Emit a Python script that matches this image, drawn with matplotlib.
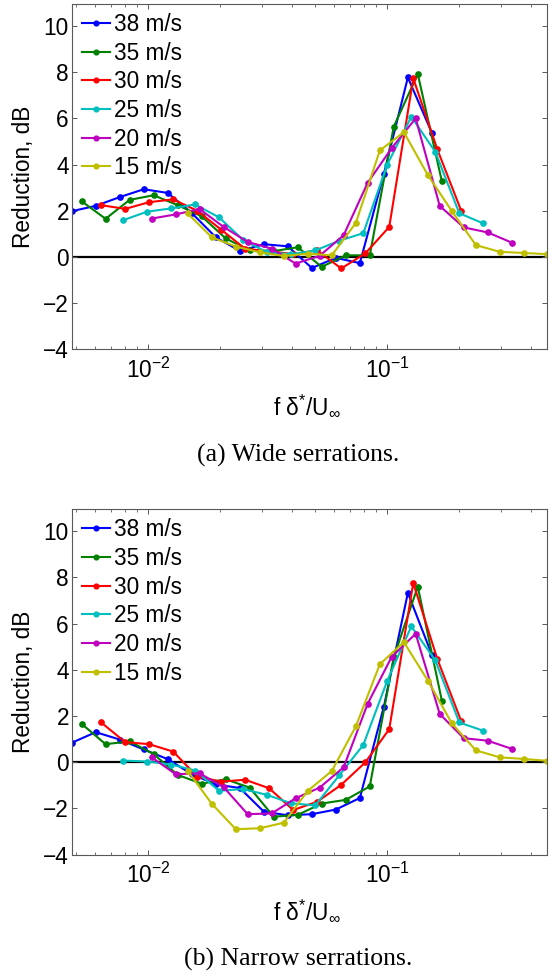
import numpy as np
import matplotlib
matplotlib.use('Agg')
import matplotlib.pyplot as plt

plt.rcParams['font.family'] = ['Liberation Sans', 'DejaVu Sans']
plt.rcParams['mathtext.fontset'] = 'custom'
plt.rcParams['mathtext.rm'] = 'Liberation Sans'
plt.rcParams['mathtext.it'] = 'Liberation Sans:italic'

# legend labels and line colours (MATLAB style)
speeds = ['38 m/s', '35 m/s', '30 m/s', '25 m/s', '20 m/s', '15 m/s']
colors = ['#0000ff', '#008000', '#ff0000', '#00bfbf', '#bf00bf', '#bfbf00']

# non-dimensional frequency f*delta/U for each speed (1/3 octave bands)
x_38 = [0.0048, 0.00605, 0.00762, 0.0096, 0.0121, 0.01524, 0.0192, 0.0242,
        0.03048, 0.0384, 0.0484, 0.06096, 0.0768, 0.0968, 0.1219, 0.1536]
x_35 = [0.00528, 0.00665, 0.00838, 0.01056, 0.0133, 0.01676, 0.02112, 0.0266,
        0.03353, 0.04224, 0.0532, 0.06706, 0.08448, 0.1064, 0.1341, 0.169]
x_30 = [0.00637, 0.00803, 0.01011, 0.01274, 0.01605, 0.02022, 0.02548, 0.0321,
        0.04045, 0.05096, 0.0642, 0.0809, 0.1019, 0.1284, 0.1618, 0.2038]
x_25 = [0.00787, 0.00992, 0.0125, 0.01574, 0.01983, 0.025, 0.0315, 0.0397,
        0.05, 0.063, 0.0794, 0.1, 0.126, 0.1587, 0.2, 0.252]
x_20 = [0.01035, 0.01304, 0.01643, 0.0207, 0.02608, 0.03286, 0.0414, 0.05216,
        0.06571, 0.0828, 0.1043, 0.1314, 0.1656, 0.2086, 0.2628, 0.3312]
x_15 = [0.01466, 0.01847, 0.02327, 0.02932, 0.03694, 0.04654, 0.05864, 0.07388,
        0.09308, 0.1173, 0.1478, 0.1862, 0.2346, 0.2955, 0.3723, 0.4664]

# (a) wide serrations, reduction in dB
wide_38 = [1.98, 2.21, 2.59, 2.93, 2.77, 1.9, 0.85, 0.26, 0.55, 0.46, -0.48, -0.04, -0.27, 3.6, 7.77, 5.37]
wide_35 = [2.41, 1.65, 2.47, 2.67, 2.24, 1.76, 0.8, 0.28, 0.25, 0.42, -0.43, 0.07, 0.07, 5.64, 7.92, 3.28]
wide_30 = [2.24, 2.08, 2.37, 2.49, 2.0, 1.18, 0.35, 0.25, 0.12, 0.28, -0.5, 0.15, 1.3, 7.73, 4.66, 1.99]
wide_25 = [1.59, 1.96, 2.1, 2.27, 1.71, 0.73, 0.2, 0.12, 0.28, 0.7, 1.03, 4.0, 6.07, 4.55, 1.89, 1.45]
wide_20 = [1.66, 1.84, 2.07, 1.3, 0.65, 0.36, -0.29, 0.05, 0.94, 3.21, 4.71, 6.0, 2.21, 1.28, 1.06, 0.62]
wide_15 = [1.88, 0.85, 0.45, 0.2, 0.04, 0.14, 0.07, 1.47, 4.61, 5.4, 3.54, 1.98, 0.51, 0.22, 0.17, 0.12]

# (b) narrow serrations
narrow_38 = [0.84, 1.3, 0.98, 0.55, 0.13, -0.52, -0.96, -1.12, -2.14, -2.3, -2.25, -2.05, -1.55, 2.41, 7.33, 4.65]
narrow_35 = [1.66, 0.78, 0.9, 0.35, -0.55, -0.93, -0.74, -1.1, -2.36, -2.28, -1.79, -1.63, -1.05, 4.55, 7.6, 2.67]
narrow_30 = [1.72, 0.87, 0.78, 0.46, -0.62, -0.84, -0.76, -1.13, -2.07, -1.71, -0.98, -0.01, 1.43, 7.76, 4.47, 1.77]
narrow_25 = [0.07, 0.03, -0.1, -0.36, -1.24, -1.16, -1.42, -1.78, -1.87, -0.57, 0.75, 3.53, 5.88, 4.41, 1.72, 1.36]
narrow_20 = [0.22, -0.52, -0.48, -1.08, -2.25, -2.22, -1.56, -1.1, -0.22, 2.53, 4.56, 5.56, 2.09, 1.04, 0.93, 0.58]
narrow_15 = [-0.38, -1.8, -2.9, -2.86, -2.62, -1.24, -0.38, 1.55, 4.24, 5.2, 3.53, 1.68, 0.51, 0.21, 0.14, 0.06]

x_all = [x_38, x_35, x_30, x_25, x_20, x_15]
wide = [wide_38, wide_35, wide_30, wide_25, wide_20, wide_15]
narrow = [narrow_38, narrow_35, narrow_30, narrow_25, narrow_20, narrow_15]

yticks = [-4, -2, 0, 2, 4, 6, 8, 10]
captions = ['(a) Wide serrations.', '(b) Narrow serrations.']
fs = 16.3


def plot_panel(ax, ys):
    ax.axhline(0, color='k', lw=1.6, zorder=1)
    for xs, y, c, lab in zip(x_all, ys, colors, speeds):
        ax.plot(xs, y, '-o', color=c, lw=1.5, ms=3.8, label=lab, zorder=2)
    ax.set_xscale('log')
    ax.set_xlim(0.0048, 0.4664)
    ax.set_ylim(-4, 10.95)
    ax.set_yticks(yticks)
    ax.tick_params(which='both', direction='in', top=True, right=True,
                   labelsize=fs, color='0.35')
    ax.tick_params(which='major', length=3.5, width=0.7)
    ax.tick_params(which='minor', length=2.0, width=0.6)
    ax.tick_params(axis='x', pad=6)
    ax.tick_params(axis='y', pad=2)
    for sp in ax.spines.values():
        sp.set_color('0.35')
        sp.set_linewidth(0.8)
    ax.set_ylabel('Reduction, dB', fontsize=fs)
    ax.yaxis.set_label_coords(-0.077, 0.5)
    ax.text(0.495, -0.166, r'f δ$^{*}$/U$_{\infty}$', transform=ax.transAxes,
            ha='center', va='center', fontsize=fs)
    ax.legend(loc='upper left', bbox_to_anchor=(0.021, 0.974), frameon=False,
              fontsize=fs, handlelength=1.24, handletextpad=0.19,
              labelspacing=0.25, borderpad=0, borderaxespad=0, markerscale=0.9)


fig = plt.figure(figsize=(5.59, 9.76), dpi=100)
ax1 = fig.add_axes([0.1283, 0.6421, 0.8508, 0.3538])
ax2 = fig.add_axes([0.1283, 0.1244, 0.8508, 0.3538])
plot_panel(ax1, wide)
plot_panel(ax2, narrow)

fig.text(0.533, 1 - 455 / 976, captions[0], ha='center', va='center',
         family='Liberation Serif', fontsize=18.5)
fig.text(0.533, 1 - 959 / 976, captions[1], ha='center', va='center',
         family='Liberation Serif', fontsize=18.5)

fig.savefig('out.png', dpi=100)
